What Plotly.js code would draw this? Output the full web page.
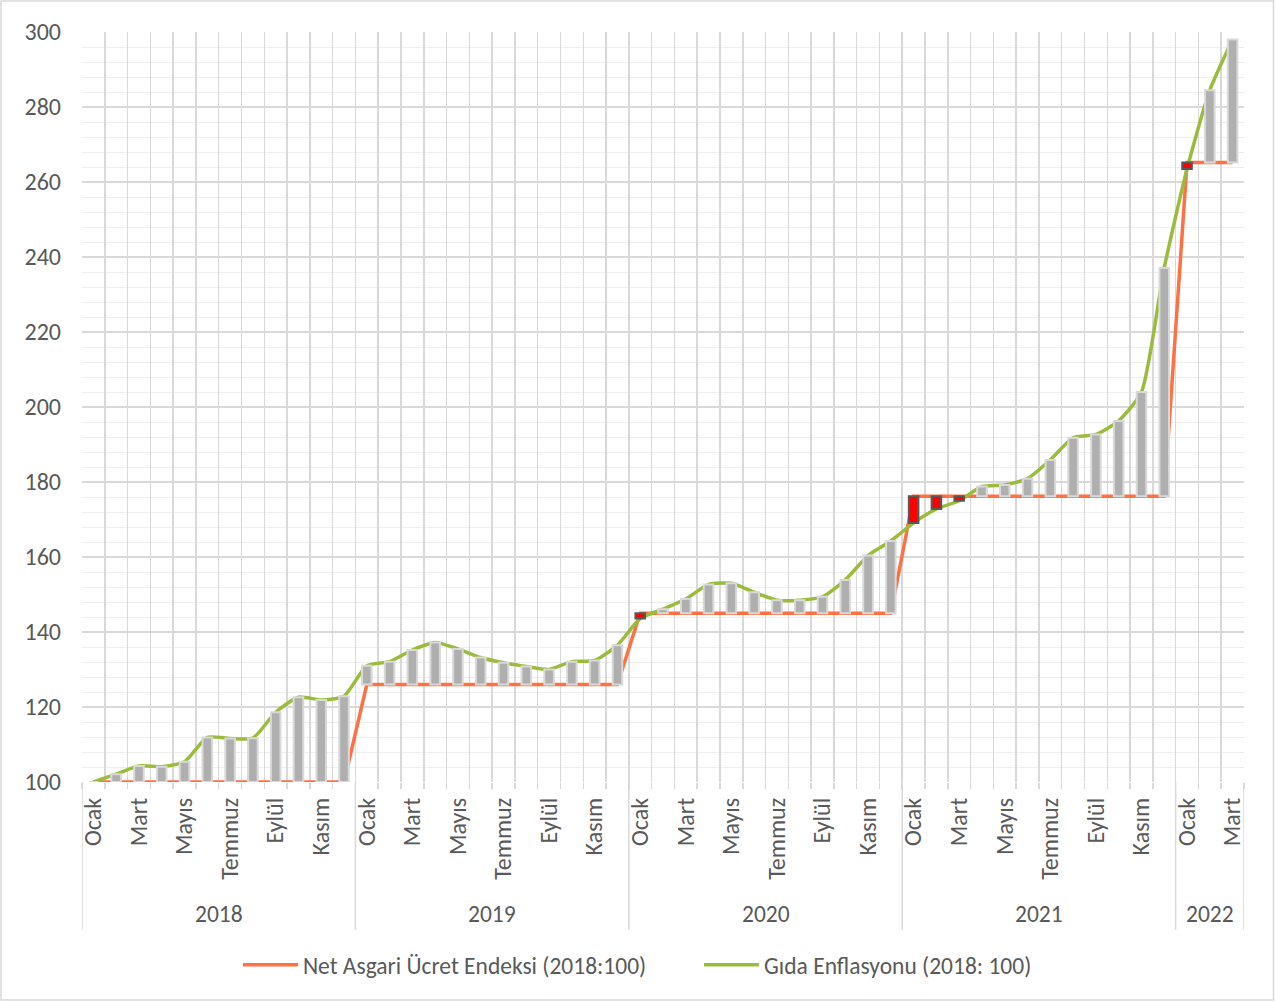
<!DOCTYPE html>
<html>
<head>
<meta charset="utf-8">
<script src="https://cdn.plot.ly/plotly-3.0.1.min.js"></script>
<style>
html,body{margin:0;padding:0;background:#fff;}
#chart{width:1275px;height:1003px;}
</style>
</head>
<body>
<div id="chart"></div>
<script>
const monthNames = ["Ocak","Şubat","Mart","Nisan","Mayıs","Haziran","Temmuz","Ağustos","Eylül","Ekim","Kasım","Aralık"];
const years = ["2018","2019","2020","2021","2022"];
const monthsPerYear = [12,12,12,12,3];

const wageIndex = [
  100,100,100,100,100,100,100,100,100,100,100,100,
  126,126,126,126,126,126,126,126,126,126,126,126,
  145,145,145,145,145,145,145,145,145,145,145,145,
  176.2,176.2,176.2,176.2,176.2,176.2,176.2,176.2,176.2,176.2,176.2,176.2,
  265.2,265.2,265.2
];
const foodIndex = [
  100,102.1,104.3,104.1,105.4,111.9,111.6,111.7,118.6,122.6,121.9,122.9,
  131.0,132.1,135.2,137.2,135.5,133.2,131.8,130.8,130.0,132.1,132.4,136.5,
  143.6,146.1,148.8,152.7,153.0,150.6,148.5,148.5,149.4,153.9,160.4,164.3,
  169.1,172.8,175.0,178.8,179.2,180.9,185.9,191.8,192.7,196.3,204.0,237.1,
  263.5,284.5,298.0
];
const seriesNames = ["Net Asgari Ücret Endeksi (2018:100)","Gıda Enflasyonu (2018: 100)"];

// category positions
const xIdx = [];
const monthLabels = [];
monthsPerYear.forEach(n => { for (let m = 0; m < n; m++) { xIdx.push(xIdx.length); monthLabels.push(monthNames[m]); } });

const tickVals = xIdx.filter(i => monthNames.indexOf(monthLabels[i]) % 2 === 0);
const tickText = tickVals.map(i => monthLabels[i]);
const boundaryVals = xIdx.map(i => i - 0.5).concat([xIdx.length - 0.5]);

// up/down bars
const upBase = [], upLen = [], downBase = [], downLen = [];
for (let i = 0; i < xIdx.length; i++) {
  const w = wageIndex[i], f = foodIndex[i];
  if (f >= w) { upBase.push(w); upLen.push(f - w); downBase.push(null); downLen.push(null); }
  else { downBase.push(f); downLen.push(w - f); upBase.push(null); upLen.push(null); }
}

const FONT = "Calibri, Carlito, Lato, 'Open Sans', sans-serif";
const txtColor = "#595959";
const gridCol = "#D9D9D9";

const traces = [
  {x: xIdx, y: wageIndex, type: "scatter", mode: "lines", name: seriesNames[0] + "         ",
   line: {color: "#FF7043", width: 3.5}, xaxis: "x", yaxis: "y"},
  {x: xIdx, y: foodIndex, type: "scatter", mode: "lines", name: seriesNames[1] + "   ",
   line: {color: "#9BBB3C", width: 3.5, shape: "spline", smoothing: 0.6}, xaxis: "x", yaxis: "y"},
  {x: xIdx, y: upLen, base: upBase, type: "bar", width: 0.42, showlegend: false, hoverinfo: "skip",
   marker: {color: "#AFAFAF", line: {color: "#D9D9D9", width: 2}}, xaxis: "x2", yaxis: "y"},
  {x: xIdx, y: downLen, base: downBase, type: "bar", width: 0.42, showlegend: false, hoverinfo: "skip",
   marker: {color: "#FF0000", line: {color: "#595959", width: 2}}, xaxis: "x2", yaxis: "y"}
];

// year boundaries
const bounds = [-0.5];
let acc = -0.5;
monthsPerYear.forEach(n => { acc += n; bounds.push(acc); });

const shapes = bounds.map(b => ({type: "line", xref: "x", yref: "paper", x0: b, x1: b, y0: 0, y1: -0.197,
  line: {color: gridCol, width: 1.5}}));
shapes.push({type: "rect", xref: "paper", yref: "paper", x0: -0.0697, x1: 1.0254, y0: -0.2906, y1: 1.0413,
  line: {color: gridCol, width: 1.5}, fillcolor: "rgba(0,0,0,0)"});

const annotations = years.map((yr, k) => ({
  xref: "x", yref: "paper", x: (bounds[k] + bounds[k+1]) / 2, y: -0.176, text: yr, showarrow: false,
  font: {family: FONT, size: 23.5, color: txtColor}, xanchor: "center", yanchor: "middle"
}));

const layout = {
  width: 1275, height: 1003,
  margin: {l: 82, r: 31, t: 32, b: 221},
  paper_bgcolor: "#fff", plot_bgcolor: "#fff",
  font: {family: FONT, color: txtColor, size: 23.5},
  barmode: "overlay",
  showlegend: true,
  legend: {orientation: "h", x: 0.4849, xanchor: "center", y: -0.244, yanchor: "middle",
           font: {family: FONT, size: 23.5, color: txtColor}, itemwidth: 55, traceorder: "normal"},
  xaxis: {range: [-0.5, 50.5], tickmode: "array", tickvals: boundaryVals, showticklabels: false,
          ticks: "outside", ticklen: 6, tickcolor: gridCol, tickwidth: 1.5,
          showgrid: true, gridcolor: gridCol, gridwidth: 1.5, zeroline: false, showline: false},
  xaxis2: {range: [-0.5, 50.5], overlaying: "x", side: "bottom", tickmode: "array", tickvals: tickVals, ticktext: tickText,
          tickangle: -90, ticks: "", showgrid: false, zeroline: false, showline: false,
          ticklabelstandoff: 10, tickfont: {family: FONT, size: 24, color: txtColor}},
  yaxis: {range: [100, 300], dtick: 20, tick0: 100, gridcolor: gridCol, gridwidth: 1.5,
          zeroline: false, showline: false, ticks: "", ticklabelstandoff: 20,
          tickfont: {family: FONT, size: 24, color: txtColor},
          minor: {dtick: 4, showgrid: true, gridcolor: "#EEEEEE", gridwidth: 1}},
  shapes: shapes,
  annotations: annotations
};

Plotly.newPlot("chart", traces, layout, {displayModeBar: false, staticPlot: true});
</script>
</body>
</html>
